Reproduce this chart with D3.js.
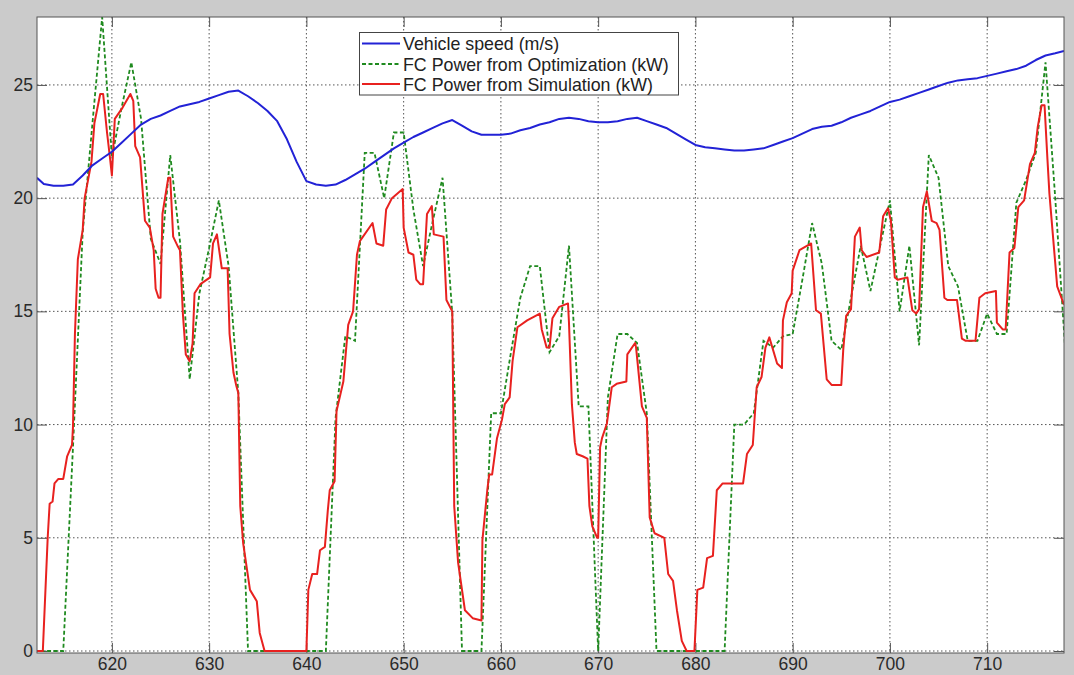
<!DOCTYPE html>
<html>
<head>
<meta charset="utf-8">
<script src="https://cdn.jsdelivr.net/npm/d3@7"></script>
<style>
  html, body { margin: 0; padding: 0; background: #cbcbcb; }
  svg { display: block; }
  text { font-family: "Liberation Sans", Arial, sans-serif; }
</style>
</head>
<body>
<svg id="chart" width="1074" height="675"></svg>
<script>
// ---------- DATA ----------
const xTicks = [620, 630, 640, 650, 660, 670, 680, 690, 700, 710];
const yTicks = [0, 5, 10, 15, 20, 25];
const seriesNames = ["Vehicle speed (m/s)", "FC Power from Optimization (kW)", "FC Power from Simulation (kW)"];

// Vehicle speed (m/s): [time, value]
const speedData = [
  [612.3,20.9],[613,20.62],[614,20.55],[615,20.55],[616,20.6],[617,21.0],[618,21.45],[619,21.75],
  [620,22.05],[621,22.45],[622,22.85],[623,23.25],[624,23.5],[625,23.65],[626,23.85],[627,24.05],
  [628,24.15],[629,24.25],[630,24.4],[631,24.55],[632,24.7],[633,24.75],[634,24.5],[635,24.2],
  [636,23.85],[637,23.4],[638,22.6],[639,21.6],[640,20.75],[641,20.6],[642,20.55],[643,20.6],
  [644,20.8],[645,21.05],[646,21.3],[647,21.6],[648,21.9],[649,22.2],[650,22.45],[651,22.7],
  [652,22.9],[653,23.1],[654,23.3],[655,23.45],[656,23.2],[657,22.95],[658,22.8],[659,22.8],
  [660,22.8],[661,22.85],[662,23.0],[663,23.1],[664,23.25],[665,23.35],[666,23.5],[667,23.55],
  [668,23.5],[669,23.4],[670,23.35],[671,23.35],[672,23.4],[673,23.5],[674,23.55],[675,23.4],
  [676,23.25],[677,23.1],[678,22.85],[679,22.6],[680,22.35],[681,22.25],[682,22.2],[683,22.15],
  [684,22.1],[685,22.1],[686,22.15],[687,22.2],[688,22.35],[689,22.5],[690,22.65],[691,22.85],
  [692,23.05],[693,23.15],[694,23.2],[695,23.35],[696,23.55],[697,23.7],[698,23.85],[699,24.05],
  [700,24.25],[701,24.35],[702,24.5],[703,24.65],[704,24.8],[705,24.95],[706,25.1],[707,25.2],
  [708,25.25],[709,25.3],[710,25.4],[711,25.5],[712,25.6],[713,25.7],[714,25.85],[715,26.1],
  [716,26.3],[717,26.4],[717.9,26.5]
];

// FC Power from Optimization (kW): [time, value]
const optData = [
  [612,0],[613,0],[614,0],[615,0],[616,9],[617,18.5],[618,23.3],[619,28],[620,21.8],[621,24],
  [622,26],[623,23.5],[624,18.2],[625,17.1],[626,21.9],[627,18.1],[628,12.0],[629,15.8],[630,17.8],
  [631,19.9],[632,17.0],[633,11.4],[634,0],[635,0],[636,0],[637,0],[638,0],[639,0],[640,0],
  [641,0],[642,0],[643,10.3],[644,13.9],[645,13.7],[646,22],[647,22],[648,20],[649,22.9],[650,22.9],
  [651,19.5],[652,17],[653,19],[654,20.9],[655,14.9],[656,0],[657,0],[658,0],[659,10.5],[660,10.5],
  [661,13.1],[662,15.6],[663,17],[664,17],[665,13.2],[666,13.9],[667,17.9],[668,10.8],[669,10.8],
  [670,0],[671,11.2],[672,14],[673,14],[674,13.6],[675,10.5],[676,0],[677,0],[678,0],[679,0],
  [680,0],[681,0],[682,0],[683,0],[684,10],[685,10],[686,10.5],[687,13.7],[688,13.4],[689,13.9],
  [690,14.0],[691,16.4],[692,18.9],[693,17.1],[694,13.7],[695,13.3],[696,15.6],[697,17.9],[698,15.9],
  [699,17.9],[700,19.9],[701,15.0],[702,17.9],[703,13.5],[704,21.9],[705,20.9],[706,17.0],[707,16.1],
  [708,13.7],[709,13.7],[710,14.9],[711,14.0],[712,14.0],[713,19.8],[714,20.8],[715,22],[716,26],
  [717,20],[718,13.5]
];

// FC Power from Simulation (kW): [time, value]
const simData = [
  [612.3,0],[612.9,0],[613.4,5.0],[613.6,6.5],[613.9,6.6],[614.1,7.4],[614.5,7.6],[615.0,7.6],
  [615.4,8.6],[615.9,9.1],[616.0,9.9],[616.2,14.0],[616.5,17.3],[617.0,18.6],[617.2,20.0],[617.9,21.6],
  [618.2,23.3],[618.8,24.6],[619.1,24.6],[619.5,22.9],[619.8,21.8],[620.0,21.0],[620.3,23.5],[621.1,24.0],
  [621.9,24.6],[622.2,24.3],[622.4,22.3],[622.9,21.8],[623.4,19.0],[623.9,18.7],[624.3,17.7],[624.5,16.0],
  [624.8,15.6],[625.0,15.6],[625.2,19.3],[625.8,20.9],[626.0,20.9],[626.3,18.3],[626.8,17.85],[627.0,17.7],
  [627.3,14.9],[627.6,13.1],[628.0,12.8],[628.3,13.6],[628.5,15.8],[629.1,16.2],[630.1,16.5],[630.4,18.0],
  [630.8,18.4],[631.3,16.9],[631.9,16.9],[632.1,14.0],[632.5,12.3],[632.8,11.7],[633.0,11.4],[633.2,6.4],
  [633.5,4.75],[634.2,2.7],[634.9,2.2],[635.2,0.8],[635.7,0],[640.0,0],[640.2,2.7],[640.6,3.4],
  [641.1,3.4],[641.4,4.45],[641.9,4.6],[642.2,6.2],[642.4,7.1],[642.9,7.5],[643.1,10.6],[643.8,11.9],
  [644.3,14.4],[644.8,15.0],[645.2,17.5],[645.5,18.1],[646.8,18.9],[647.2,18.0],[647.9,17.9],[648.2,19.5],
  [648.8,20.0],[649.9,20.4],[650.0,18.7],[650.5,17.6],[651.0,17.5],[651.3,16.4],[651.7,16.2],[652.0,16.2],
  [652.4,19.3],[652.9,19.65],[653.1,18.4],[654.1,18.3],[654.4,15.5],[655.0,15.0],[655.2,6.4],[655.6,3.9],
  [656.3,1.8],[657.1,1.45],[658.0,1.35],[658.1,4.9],[658.6,7.1],[658.8,7.8],[659.1,7.8],[659.6,9.4],
  [660.1,10.2],[660.4,10.9],[660.9,11.2],[661.2,12.8],[661.7,14.3],[662.7,14.6],[664.0,14.9],[664.2,14.2],
  [664.7,13.4],[665.0,13.4],[665.3,14.7],[666.0,15.2],[666.9,15.35],[667.0,14.5],[667.3,10.9],[667.6,9.2],
  [667.8,8.7],[668.4,8.6],[668.9,8.5],[669.1,6.4],[669.4,5.5],[669.9,5.0],[670.0,5.0],[670.2,9.0],
  [670.4,9.4],[670.9,10.05],[671.4,11.65],[671.9,11.8],[672.9,11.9],[673.0,13.1],[673.8,13.6],[673.9,13.4],
  [674.5,10.8],[675.0,10.3],[675.3,5.9],[675.8,5.2],[676.8,5.0],[677.2,3.4],[677.7,3.1],[678.1,1.8],
  [678.6,0.45],[679.1,0],[679.9,0],[680.2,2.7],[680.8,2.8],[681.2,4.1],[681.8,4.2],[682.2,7.1],
  [682.8,7.4],[684.9,7.4],[685.3,8.7],[685.9,9.1],[686.3,11.65],[686.8,12.1],[687.2,13.4],[687.6,13.85],
  [688.4,12.7],[688.9,12.5],[689.0,14.6],[689.4,15.4],[689.9,15.8],[690.0,16.8],[690.7,17.7],[691.9,18.0],
  [692.4,15.05],[692.9,14.9],[693.5,12.0],[694.0,11.75],[695.0,11.75],[695.2,13.3],[695.5,14.8],[696.0,15.1],
  [696.4,18.3],[696.9,18.7],[697.1,17.7],[697.6,17.4],[698.9,17.6],[699.3,19.2],[699.8,19.55],[700.1,19.0],
  [700.5,16.5],[700.8,16.4],[701.8,16.5],[702.3,15.05],[702.7,14.9],[703.0,15.1],[703.4,19.6],[703.8,20.3],
  [704.3,19.0],[704.8,18.9],[705.1,18.6],[705.6,15.6],[705.9,15.5],[706.9,15.5],[707.4,13.8],[707.8,13.7],
  [708.8,13.7],[709.2,15.6],[709.8,15.8],[710.9,15.9],[711.0,14.5],[711.6,14.2],[711.9,14.2],[712.3,17.6],
  [712.8,17.8],[713.2,19.6],[713.8,19.9],[714.4,21.5],[714.9,22.0],[715.2,23.15],[715.6,24.1],[715.9,24.1],
  [716.2,21.7],[716.4,20.2],[717.2,16.1],[717.9,15.3]
];

// ---------- CHART ----------
const svg = d3.select("#chart");
const W = 1074, H = 675;
const plot = { left: 37, right: 1064, top: 17, bottom: 653 };
const x = d3.scaleLinear().domain([612.3, 717.9]).range([plot.left, plot.right]);
const y = d3.scaleLinear().domain([0, 28]).range([651, plot.top]);

svg.append("rect").attr("width", W).attr("height", H).attr("fill", "#cbcbcb");
svg.append("rect")
  .attr("x", plot.left).attr("y", plot.top)
  .attr("width", plot.right - plot.left).attr("height", plot.bottom - plot.top)
  .attr("fill", "#ffffff");

svg.append("defs").append("clipPath").attr("id", "clip")
  .append("rect")
  .attr("x", plot.left).attr("y", plot.top)
  .attr("width", plot.right - plot.left).attr("height", plot.bottom - plot.top);

// grid
const grid = svg.append("g").attr("class", "grid");
grid.selectAll("line.gx").data(xTicks).join("line")
  .attr("x1", d => x(d)).attr("x2", d => x(d))
  .attr("y1", plot.top).attr("y2", plot.bottom)
  .attr("stroke", "#555").attr("stroke-width", 1).attr("stroke-dasharray", "1.5,2.5");
grid.selectAll("line.gy").data(yTicks).join("line")
  .attr("x1", plot.left).attr("x2", plot.right)
  .attr("y1", d => y(d)).attr("y2", d => y(d))
  .attr("stroke", "#555").attr("stroke-width", 1).attr("stroke-dasharray", "1.5,2.5");

// axes with inward ticks
const tickLen = 10;
const axB = svg.append("g").attr("transform", `translate(0,${plot.bottom})`)
  .call(d3.axisBottom(x).tickValues(xTicks).tickSizeInner(-tickLen).tickSizeOuter(0).tickPadding(5));
const axL = svg.append("g").attr("transform", `translate(${plot.left},0)`)
  .call(d3.axisLeft(y).tickValues(yTicks).tickSizeInner(-tickLen).tickSizeOuter(0).tickPadding(4));
const axT = svg.append("g").attr("transform", `translate(0,${plot.top})`)
  .call(d3.axisTop(x).tickValues(xTicks).tickSizeInner(-tickLen).tickSizeOuter(0).tickFormat(""));
const axR = svg.append("g").attr("transform", `translate(${plot.right},0)`)
  .call(d3.axisRight(y).tickValues(yTicks).tickSizeInner(-tickLen).tickSizeOuter(0).tickFormat(""));

[axB, axL, axT, axR].forEach(a => {
  a.select(".domain").remove();
  a.selectAll(".tick line").attr("stroke", "#555").attr("stroke-width", 1);
  a.selectAll(".tick text").attr("fill", "#2a2a2a").style("font-size", "17.5px")
    .style("font-family", "'Liberation Sans', Arial, sans-serif");
});

// series lines
const line = d3.line().x(d => x(d[0])).y(d => y(d[1]));
const lines = svg.append("g").attr("clip-path", "url(#clip)");
lines.append("path").datum(optData)
  .attr("d", line).attr("fill", "none")
  .attr("stroke", "#1f8a1f").attr("stroke-width", 1.8).attr("stroke-dasharray", "4,2.5");
lines.append("path").datum(simData)
  .attr("d", line).attr("fill", "none")
  .attr("stroke", "#e8211f").attr("stroke-width", 2).attr("stroke-linejoin", "round");
lines.append("path").datum(speedData)
  .attr("d", line).attr("fill", "none")
  .attr("stroke", "#2222d6").attr("stroke-width", 2).attr("stroke-linejoin", "round");

// frame
svg.append("rect")
  .attr("x", plot.left).attr("y", plot.top)
  .attr("width", plot.right - plot.left).attr("height", plot.bottom - plot.top)
  .attr("fill", "none").attr("stroke", "#555").attr("stroke-width", 1);

// legend
const legend = svg.append("g");
legend.append("rect")
  .attr("x", 359.5).attr("y", 32.5).attr("width", 319).attr("height", 62.5)
  .attr("fill", "#ffffff").attr("stroke", "#444").attr("stroke-width", 1);
const legStyles = [
  { color: "#2222d6", dash: null, w: 2 },
  { color: "#1f8a1f", dash: "4,2.5", w: 1.8 },
  { color: "#e8211f", dash: null, w: 2 }
];
const rowY = [43.5, 64, 84];
seriesNames.forEach((name, i) => {
  legend.append("line")
    .attr("x1", 362).attr("x2", 400).attr("y1", rowY[i]).attr("y2", rowY[i])
    .attr("stroke", legStyles[i].color).attr("stroke-width", legStyles[i].w)
    .attr("stroke-dasharray", legStyles[i].dash);
  legend.append("text")
    .attr("x", 403).attr("y", rowY[i] + 6.5)
    .attr("fill", "#222").style("font-size", "17.8px")
    .text(name);
});
</script>
</body>
</html>
